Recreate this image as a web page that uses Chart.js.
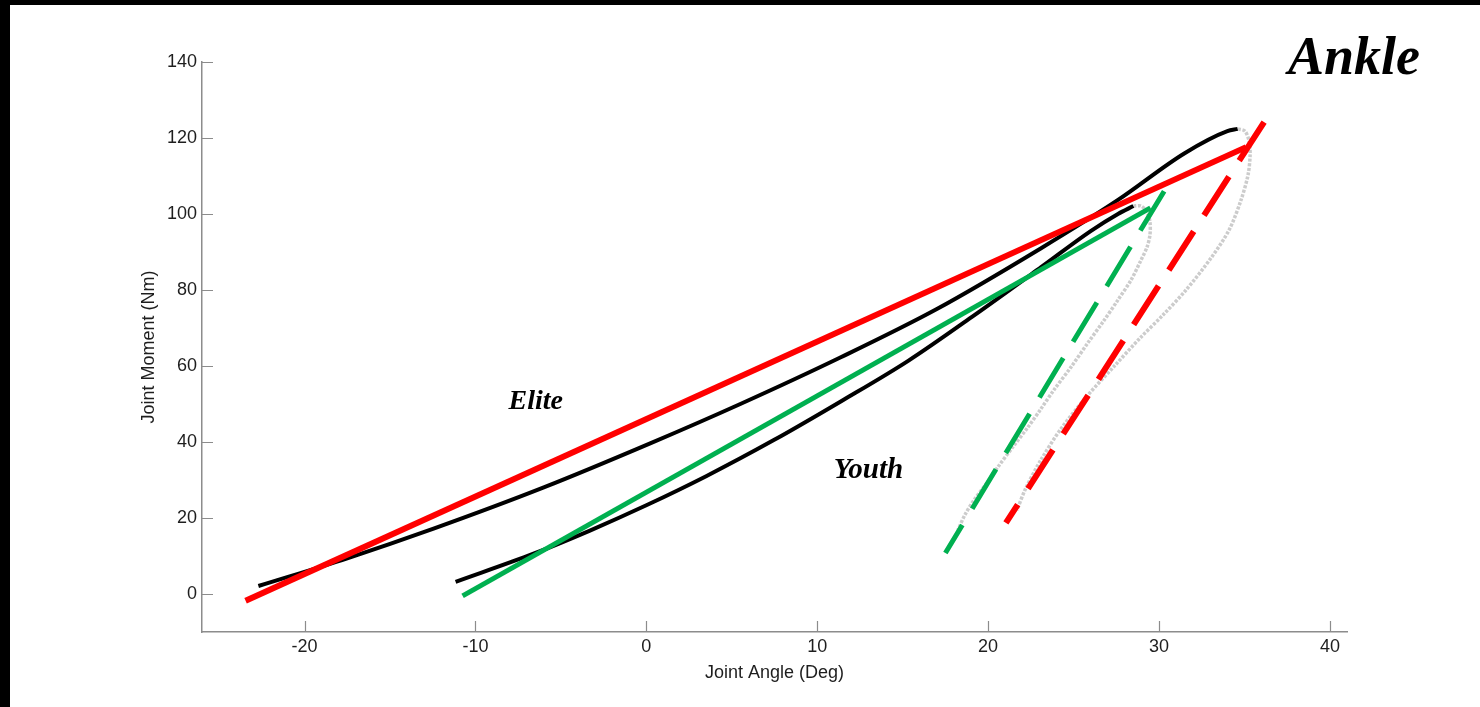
<!DOCTYPE html>
<html>
<head>
<meta charset="utf-8">
<title>Ankle</title>
<script src="https://cdn.jsdelivr.net/npm/chart.js@4.4.1/dist/chart.umd.min.js"></script>
<style>
  body { margin: 0; background: #000; }
  #grafico { position: absolute; left: 10px; top: 5px; width: 1470px; height: 702px; background: #fff; }
</style>
</head>
<body>
<div id="grafico"><canvas id="c" width="1470" height="702"></canvas></div>
<script>
// etichette degli assi
let xTicks = [-20, -10, 0, 10, 20, 30, 40];
let yTicks = [0, 20, 40, 60, 80, 100, 120, 140];

// Elite: curva nera (carico) e ritorno grigio punteggiato
let eliteX = [-22.7, -17.5, -12.45, -6, 0.26, 5.5, 11.38, 17, 23.1, 27.6, 31.5, 34.0, 34.6];
let eliteY = [2.1, 9.4, 17.2, 28.05, 39.7, 50, 62.3, 75, 91, 103.7, 116, 121.8, 122.4];
let eliteBackX = [34.62, 35.03, 35.27, 35.33, 35.21, 34.8, 34.1, 33.04, 31.58, 30.23, 28.9, 27.45, 25.85, 24.3, 23.09, 22.21, 21.69];
let eliteBackY = [122.4, 121.8, 119.2, 115.5, 110.3, 103.7, 95.8, 88.4, 80, 73.4, 67.4, 60.3, 52.4, 43.7, 35.3, 27.9, 22.1];

// Youth
let youthX = [-11.16, -6.6, -3.3, 0, 3.5, 7.46, 11.5, 15.3, 19.2, 23.1, 26.0, 27.6, 28.5];
let youthY = [3.2, 10.6, 16.7, 23.35, 31, 40.5, 51, 61.3, 73.4, 86, 95.5, 100, 102.1];
let youthBackX = [28.5, 28.95, 29.3, 29.47, 29.47, 29.3, 28.95, 28.36, 27.6, 26.72, 25.84, 24.85, 23.85, 23.09, 22.33, 21.45, 20.57, 19.87, 19.17, 18.64, 18.23];
let youthBackY = [102.1, 102.1, 100.5, 97.9, 94.5, 91.3, 87.9, 82.6, 77.4, 71.6, 66.1, 59.7, 53.7, 48.7, 43.9, 38.7, 33.4, 28.9, 24.7, 20.8, 16.8];

// rette di rigidezza
let eliteFitX = [-23.45, 35.1];
let eliteFitY = [-1.8, 117.6];
let eliteUnloadX = [36.15, 21.04];
let eliteUnloadY = [124.2, 18.7];
let youthFitX = [-10.75, 29.5];
let youthFitY = [-0.5, 101.6];
let youthUnloadX = [30.3, 17.5];
let youthUnloadY = [106, 10.8];

function punti(xs, ys) {
  return xs.map((x, i) => ({ x: x, y: ys[i] }));
}

function linea(xs, ys, colore, spessore, ordine, extra) {
  return Object.assign({
    data: punti(xs, ys),
    showLine: true,
    borderColor: colore,
    borderWidth: spessore,
    pointRadius: 0,
    pointHoverRadius: 0,
    tension: 0,
    fill: false,
    order: ordine
  }, extra || {});
}

// tacche interne e scritte
const decorazioni = {
  id: 'decorazioni',
  afterDraw(chart) {
    let ctx = chart.ctx;
    let area = chart.chartArea;
    let sx = chart.scales.x;
    let sy = chart.scales.y;
    ctx.save();
    ctx.strokeStyle = '#8c8c8c';
    ctx.lineWidth = 1.2;
    ctx.beginPath();
    xTicks.forEach(v => {
      let px = Math.round(sx.getPixelForValue(v)) + 0.5;
      ctx.moveTo(px, area.bottom);
      ctx.lineTo(px, area.bottom - 11);
    });
    yTicks.forEach(v => {
      let py = Math.round(sy.getPixelForValue(v)) + 0.5;
      ctx.moveTo(area.left, py);
      ctx.lineTo(area.left + 11, py);
    });
    ctx.stroke();

    ctx.fillStyle = '#000';
    ctx.textAlign = 'left';
    ctx.textBaseline = 'alphabetic';
    ctx.font = 'italic bold 28px "Liberation Serif"';
    ctx.fillText('Elite', sx.getPixelForValue(-8.06), sy.getPixelForValue(48.7));
    ctx.font = 'italic bold 29px "Liberation Serif"';
    ctx.fillText('Youth', sx.getPixelForValue(10.97), sy.getPixelForValue(30.5));
    ctx.font = 'italic bold 54px "Liberation Serif"';
    ctx.fillText('Ankle', 1278, 69);
    ctx.restore();
  }
};

let fontTick = { family: '"Liberation Sans", Arial, sans-serif', size: 18 };

new Chart(document.getElementById('c'), {
  type: 'scatter',
  data: {
    datasets: [
      linea(eliteFitX, eliteFitY, '#ff0000', 6, 0),
      linea(eliteUnloadX, eliteUnloadY, '#ff0000', 6, 1, { borderDash: [46, 19] }),
      linea(youthFitX, youthFitY, '#00b050', 5, 2),
      linea(youthUnloadX, youthUnloadY, '#00b050', 5, 3, { borderDash: [46, 19] }),
      linea(eliteX, eliteY, '#000000', 4, 4, { cubicInterpolationMode: 'monotone' }),
      linea(youthX, youthY, '#000000', 4, 5, { cubicInterpolationMode: 'monotone' }),
      linea(eliteBackX, eliteBackY, '#cccccc', 3.5, 6, { tension: 0.3, borderDash: [3, 1.5] }),
      linea(youthBackX, youthBackY, '#cccccc', 3.5, 7, { tension: 0.3, borderDash: [3, 1.5] })
    ]
  },
  options: {
    responsive: false,
    animation: false,
    layout: { padding: { left: 0, top: 57, right: 133, bottom: 0 } },
    plugins: {
      legend: { display: false },
      tooltip: { enabled: false }
    },
    scales: {
      x: {
        type: 'linear',
        min: -26,
        max: 41,
        grid: { display: false, drawTicks: false },
        border: { display: true, color: '#8c8c8c', width: 1.5 },
        ticks: { font: fontTick, color: '#1e1e1e', padding: 4 },
        title: { display: true, text: 'Joint Angle (Deg)', font: fontTick, color: '#1e1e1e', padding: { top: 0, bottom: 23 } },
        afterBuildTicks: s => { s.ticks = xTicks.map(v => ({ value: v })); },
        afterFit: s => { s.height = 75; }
      },
      y: {
        type: 'linear',
        min: -10,
        max: 140,
        grid: { display: false, drawTicks: false },
        border: { display: true, color: '#8c8c8c', width: 1.5 },
        ticks: { font: fontTick, color: '#1e1e1e', padding: 5 },
        title: { display: true, text: 'Joint Moment (Nm)', font: fontTick, color: '#1e1e1e', padding: { top: 128, bottom: 0 } },
        afterBuildTicks: s => { s.ticks = yTicks.map(v => ({ value: v })); },
        afterFit: s => { s.width = 192; }
      }
    }
  },
  plugins: [decorazioni]
});
</script>
</body>
</html>
